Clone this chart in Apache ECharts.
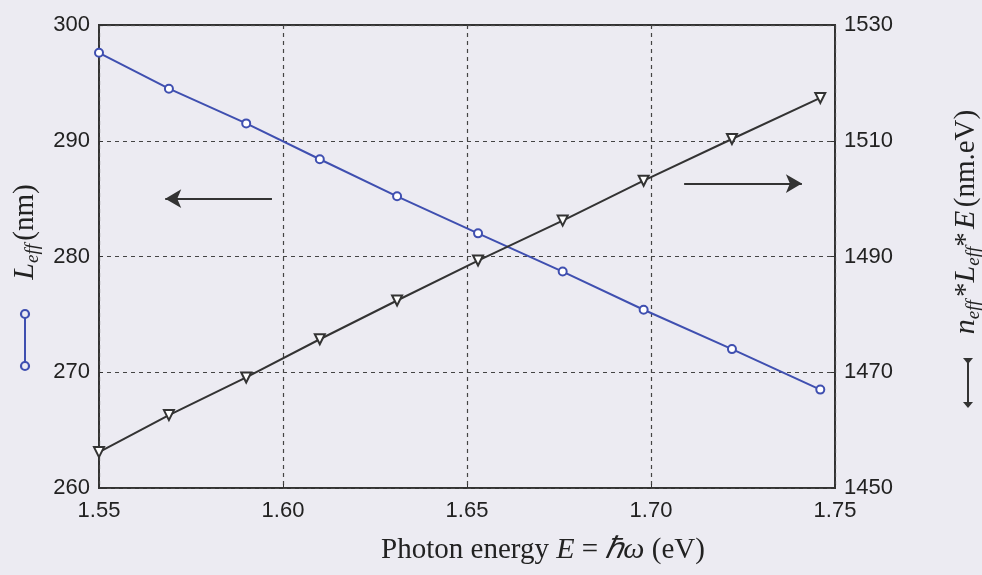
<!DOCTYPE html>
<html>
<head>
<meta charset="utf-8">
<script src="https://cdn.jsdelivr.net/npm/echarts@6/dist/echarts.min.js"></script>
<style>
    html, body { margin: 0; padding: 0; background: #ecebf2; }
    #chart { width: 982px; height: 575px; }
</style>
</head>
<body>
<div id="chart"></div>
<script>
// photon energy (eV) of each sample point
var energy = [1.550, 1.569, 1.590, 1.610, 1.631, 1.653, 1.676, 1.698, 1.722, 1.746];
// L_eff (nm), left axis
var leff = [297.6, 294.5, 291.5, 288.4, 285.2, 282.0, 278.7, 275.4, 272.0, 268.5];
// n_eff * L_eff * E (nm.eV), right axis
var product = [1456.2, 1462.6, 1469.1, 1475.7, 1482.4, 1489.3, 1496.2, 1503.1, 1510.3, 1517.4];

var xTicks = [1.55, 1.75, 0.05];
var leftTicks = [260, 300, 10];
var rightTicks = [1450, 1530, 20];

// arrows telling which axis each curve belongs to
var leftArrow = [[1.597, 285], [1.568, 285]];
var rightArrow = [[1.709, 1502.6], [1.741, 1502.6]];

function pairs(xs, ys) {
    return xs.map(function (x, i) { return [x, ys[i]]; });
}

var myChart = echarts.init(document.getElementById('chart'));

var tickFont = {
    fontFamily: 'Liberation Sans',
    fontSize: 22,
    color: '#222'
};
var dashed = { show: true, lineStyle: { color: '#444', type: [4, 4], width: 1.2 } };
var rich = {
    i: { fontFamily: 'Liberation Serif', fontStyle: 'italic', fontSize: 30, fill: '#222' },
    s: { fontFamily: 'Liberation Serif', fontStyle: 'italic', fontSize: 19, fill: '#222', verticalAlign: 'bottom', padding: [15, 0, 0, 0] },
    n: { fontFamily: 'Liberation Serif', fontSize: 29, fill: '#222' }
};

var option = {
    backgroundColor: '#ecebf2',
    animation: false,
    grid: {
        left: 99, right: 147, top: 25, bottom: 87,
        show: true,
        borderColor: '#333',
        borderWidth: 2,
        backgroundColor: 'transparent'
    },
    xAxis: {
        type: 'value',
        min: xTicks[0], max: xTicks[1], interval: xTicks[2],
        axisLine: { show: false },
        axisTick: { show: true, inside: true, length: 4, lineStyle: { color: '#333' } },
        axisLabel: Object.assign({ margin: 12, formatter: function (v) { return v.toFixed(2); } }, tickFont),
        splitLine: dashed
    },
    yAxis: [
        {
            type: 'value',
            min: leftTicks[0], max: leftTicks[1], interval: leftTicks[2],
            axisLine: { show: false },
            axisTick: { show: true, inside: true, length: 4, lineStyle: { color: '#333' } },
            axisLabel: Object.assign({ margin: 9 }, tickFont),
            splitLine: dashed
        },
        {
            type: 'value',
            position: 'right',
            min: rightTicks[0], max: rightTicks[1], interval: rightTicks[2],
            axisLine: { show: false },
            axisTick: { show: true, inside: true, length: 4, lineStyle: { color: '#333' } },
            axisLabel: Object.assign({ margin: 9, formatter: function (v) { return String(v); } }, tickFont),
            splitLine: { show: false }
        }
    ],
    series: [
        {
            type: 'line',
            yAxisIndex: 0,
            data: pairs(energy, leff),
            clip: false,
            symbol: 'emptyCircle',
            symbolSize: 8,
            color: '#3f4fb0',
            lineStyle: { width: 2, color: '#3f4fb0' },
            itemStyle: { borderWidth: 1.8, color: '#3f4fb0' },
            markLine: {
                silent: true,
                symbol: ['none', 'arrow'],
                symbolSize: [14, 16],
                label: { show: false },
                lineStyle: { color: '#333', width: 2.2, type: 'solid' },
                data: [[{ coord: leftArrow[0] }, { coord: leftArrow[1] }]]
            }
        },
        {
            type: 'line',
            yAxisIndex: 1,
            data: pairs(energy, product),
            clip: false,
            symbol: 'emptyTriangle',
            symbolRotate: 180,
            symbolSize: 10,
            color: '#333',
            lineStyle: { width: 2, color: '#333' },
            itemStyle: { borderWidth: 1.8, color: '#333' },
            markLine: {
                silent: true,
                symbol: ['none', 'arrow'],
                symbolSize: [14, 16],
                label: { show: false },
                lineStyle: { color: '#333', width: 2.2, type: 'solid' },
                data: [[{ coord: rightArrow[0] }, { coord: rightArrow[1] }]]
            }
        }
    ],
    graphic: [
        // left axis name, rotated
        {
            type: 'text',
            x: 25, y: 232,
            rotation: Math.PI / 2,
            style: {
                text: '{i|L}{s|eff} {n|(nm)}',
                align: 'center',
                verticalAlign: 'middle',
                rich: rich
            }
        },
        // left legend glyph
        { type: 'line', shape: { x1: 25, y1: 314, x2: 25, y2: 366 }, style: { stroke: '#3f4fb0', lineWidth: 2 } },
        { type: 'circle', shape: { cx: 25, cy: 314, r: 4 }, style: { stroke: '#3f4fb0', fill: '#ecebf2', lineWidth: 2.2 } },
        { type: 'circle', shape: { cx: 25, cy: 366, r: 4 }, style: { stroke: '#3f4fb0', fill: '#ecebf2', lineWidth: 2.2 } },
        // right axis name, rotated
        {
            type: 'text',
            x: 966, y: 222,
            rotation: Math.PI / 2,
            style: {
                text: '{i|n}{s|eff} {n|*}{i|L}{s|eff}{n|*} {i|E} {n|(nm.eV)}',
                align: 'center',
                verticalAlign: 'middle',
                rich: rich
            }
        },
        // right legend glyph
        { type: 'line', shape: { x1: 968, y1: 360, x2: 968, y2: 406 }, style: { stroke: '#333', lineWidth: 2 } },
        { type: 'polygon', shape: { points: [[963, 358], [973, 358], [968, 364]] }, style: { fill: '#333' } },
        { type: 'polygon', shape: { points: [[963, 402], [973, 402], [968, 408]] }, style: { fill: '#333' } },
        // x axis name
        {
            type: 'text',
            x: 543, y: 550,
            style: {
                text: '{n|Photon energy }{i|E}{n| = }{i|ℏω}{n| (eV)}',
                align: 'center',
                verticalAlign: 'middle',
                rich: rich
            }
        }
    ]
};

myChart.setOption(option);
</script>
</body>
</html>
